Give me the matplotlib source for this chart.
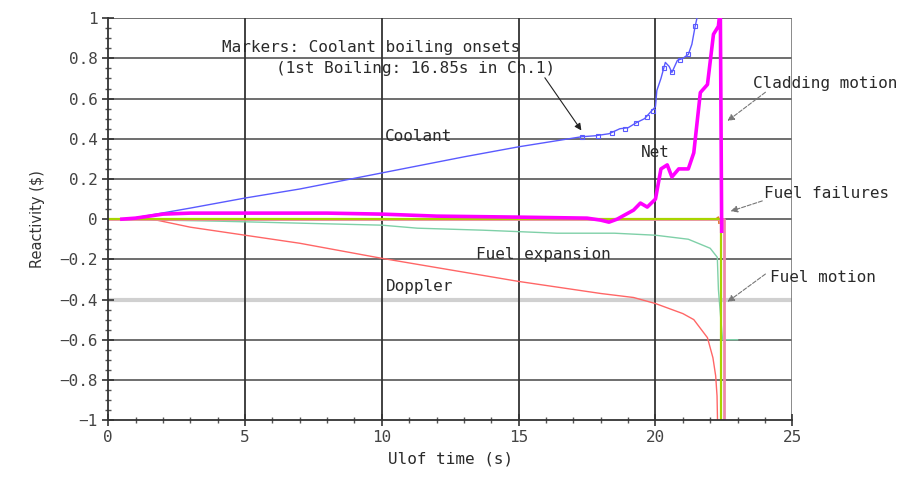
import matplotlib
matplotlib.use("Agg")
import matplotlib.pyplot as plt
from matplotlib.ticker import MultipleLocator

# time (s) / reactivity ($)
coolant_t = [0.7, 3, 5, 7, 10, 13, 15, 17.3, 17.8, 18.3, 18.7, 19.0, 19.3, 19.6, 19.8, 20.0,
             20.05, 20.2, 20.36, 20.5, 20.6, 20.8, 21.0, 21.2, 21.33, 21.45, 21.55]
coolant_r = [0.0, 0.055, 0.105, 0.15, 0.23, 0.31, 0.36, 0.41, 0.415, 0.425, 0.45, 0.455, 0.48, 0.50, 0.53, 0.56,
             0.64, 0.70, 0.78, 0.76, 0.73, 0.79, 0.80, 0.82, 0.87, 0.96, 1.02]
onset_t = [17.3, 17.9, 18.4, 18.9, 19.3, 19.7, 19.9, 20.3, 20.6, 20.9, 21.2, 21.45]
onset_r = [0.41, 0.415, 0.43, 0.45, 0.48, 0.51, 0.54, 0.75, 0.73, 0.79, 0.82, 0.96]

net_t = [0.5, 1, 2, 3, 8, 10, 12, 15, 17.5, 18.0, 18.3, 18.6, 19.0, 19.2, 19.45, 19.7, 20.0, 20.2,
         20.43, 20.6, 20.85, 21.2, 21.4, 21.64, 21.9, 22.12, 22.3, 22.37, 22.42]
net_r = [0.0, 0.005, 0.025, 0.03, 0.03, 0.025, 0.015, 0.01, 0.005, -0.005, -0.015, 0.0, 0.03, 0.045, 0.08,
         0.06, 0.1, 0.25, 0.27, 0.21, 0.25, 0.25, 0.33, 0.63, 0.67, 0.92, 0.96, 1.05, -0.06]

doppler_t = [0.7, 1.6, 3.0, 5, 7, 10, 15, 18.0, 19.2, 20.0, 21.0, 21.4, 21.9, 22.1, 22.2, 22.25, 22.27]
doppler_r = [0.0, 0.0, -0.04, -0.08, -0.12, -0.195, -0.31, -0.37, -0.39, -0.42, -0.47, -0.50, -0.59, -0.69, -0.78, -0.88, -1.02]

fuelexp_t = [0.7, 2, 4, 7, 10, 11.3, 13.7, 16.4, 18.5, 20.0, 21.2, 22.0, 22.26, 22.3, 22.45, 23.0]
fuelexp_r = [0.0, -0.005, -0.01, -0.02, -0.03, -0.045, -0.055, -0.07, -0.07, -0.08, -0.10, -0.145, -0.19, -0.35, -0.6, -0.6]

failures_t = [1.5, 2.0, 3.0, 22.2, 22.3, 22.32]
failures_r = [0.0, -0.005, -0.002, 0.0, 0.01, -0.02]

fuelmotion_t = [0.0, 22.39, 22.39]
fuelmotion_r = [0.0, 0.0, -1.02]

cladding_t = [0.0, 22.35, 22.49, 22.49]
cladding_r = [0.0, 0.0, 0.0, -1.02]

fig = plt.figure(figsize=(9.17, 4.79), dpi=100)
ax = fig.add_axes([0.118, 0.123, 0.746, 0.839])

txt = dict(family="DejaVu Sans Mono", size=11.5, color="#2a2a2a")

# 网格
for yy in [-0.8, -0.6, -0.2, 0.0, 0.2, 0.4, 0.6, 0.8, 1.0]:
    ax.axhline(yy, color="#555555", lw=1.2, zorder=0)
ax.axhline(-0.4, color="#d0d0d0", lw=3, zorder=0)
for xx in [5, 10, 15, 20]:
    ax.axvline(xx, color="#333333", lw=1.3, zorder=0)
ax.axvline(25, color="#777777", lw=1.2, zorder=0)

ax.plot(fuelexp_t, fuelexp_r, color="#7fd0a8", lw=1.0)
ax.plot(doppler_t, doppler_r, color="#ff6666", lw=1.0)
ax.plot(failures_t, failures_r, color="#e07a30", lw=1.2)
ax.plot(cladding_t, cladding_r, color="#ee88aa", lw=2.0)
ax.plot(fuelmotion_t, fuelmotion_r, color="#a8d400", lw=1.6)
ax.plot(coolant_t, coolant_r, color="#5a5aff", lw=1.0)
ax.plot(onset_t, onset_r, ls="none", marker="s", ms=3, mfc="none", mec="#5a5aff", mew=0.8)
ax.plot(net_t, net_r, color="#ff00ff", lw=2.6)

ax.set_xlim(0, 25)
ax.set_ylim(-1, 1)
ax.set_xticks([0, 5, 10, 15, 20, 25])
ax.set_xticklabels(["0", "5", "10", "15", "20", "25"], family="DejaVu Sans Mono")
ax.xaxis.set_minor_locator(MultipleLocator(1))
ax.set_yticks([-1, -0.8, -0.6, -0.4, -0.2, 0, 0.2, 0.4, 0.6, 0.8, 1])
ax.set_yticklabels(["\u22121", "\u22120.8", "\u22120.6", "\u22120.4", "\u22120.2", "0",
                    "0.2", "0.4", "0.6", "0.8", "1"], family="DejaVu Sans Mono")
ax.yaxis.set_minor_locator(MultipleLocator(0.05))
ax.tick_params(which="major", direction="inout", length=8, width=1.2, color="#333333",
               labelsize=11.5, labelcolor="#444444")
ax.tick_params(which="minor", direction="inout", length=4, width=1, color="#555555")
for s in ["top", "right"]:
    ax.spines[s].set_visible(False)
for s in ["left", "bottom"]:
    ax.spines[s].set_color("#333333")
    ax.spines[s].set_linewidth(1.3)

ax.set_xlabel("Ulof time (s)", labelpad=4, **txt)
ax.set_ylabel("Reactivity ($)", labelpad=10, family="DejaVu Sans", size=10.5, color="#333333")

ax.text(4.17, 0.855, "Markers: Coolant boiling onsets", va="center", **txt)
ax.text(6.15, 0.75, "(1st Boiling: 16.85s in Ch.1)", va="center", **txt)
ax.text(10.1, 0.41, "Coolant", va="center", **txt)
ax.text(19.45, 0.33, "Net", va="center", **txt)
ax.text(13.45, -0.175, "Fuel expansion", va="center", **txt)
ax.text(10.15, -0.335, "Doppler", va="center", **txt)
ax.text(23.55, 0.677, "Cladding motion", va="center", clip_on=False, **txt)
ax.text(23.95, 0.13, "Fuel failures", va="center", clip_on=False, **txt)
ax.text(24.2, -0.289, "Fuel motion", va="center", clip_on=False, **txt)

arr = dict(arrowstyle="-|>", color="#222222", lw=0.8, mutation_scale=10)
arr2 = dict(arrowstyle="-|>", color="#777777", ls="--", lw=0.8, mutation_scale=10)
ax.annotate("", xy=(17.35, 0.43), xytext=(15.9, 0.715), arrowprops=arr, annotation_clip=False)
ax.annotate("", xy=(22.55, 0.48), xytext=(24.1, 0.64), arrowprops=arr2, annotation_clip=False)
ax.annotate("", xy=(22.65, 0.035), xytext=(24.0, 0.095), arrowprops=arr2, annotation_clip=False)
ax.annotate("", xy=(22.55, -0.42), xytext=(24.1, -0.265), arrowprops=arr2, annotation_clip=False)

fig.savefig("out.png", dpi=100)
